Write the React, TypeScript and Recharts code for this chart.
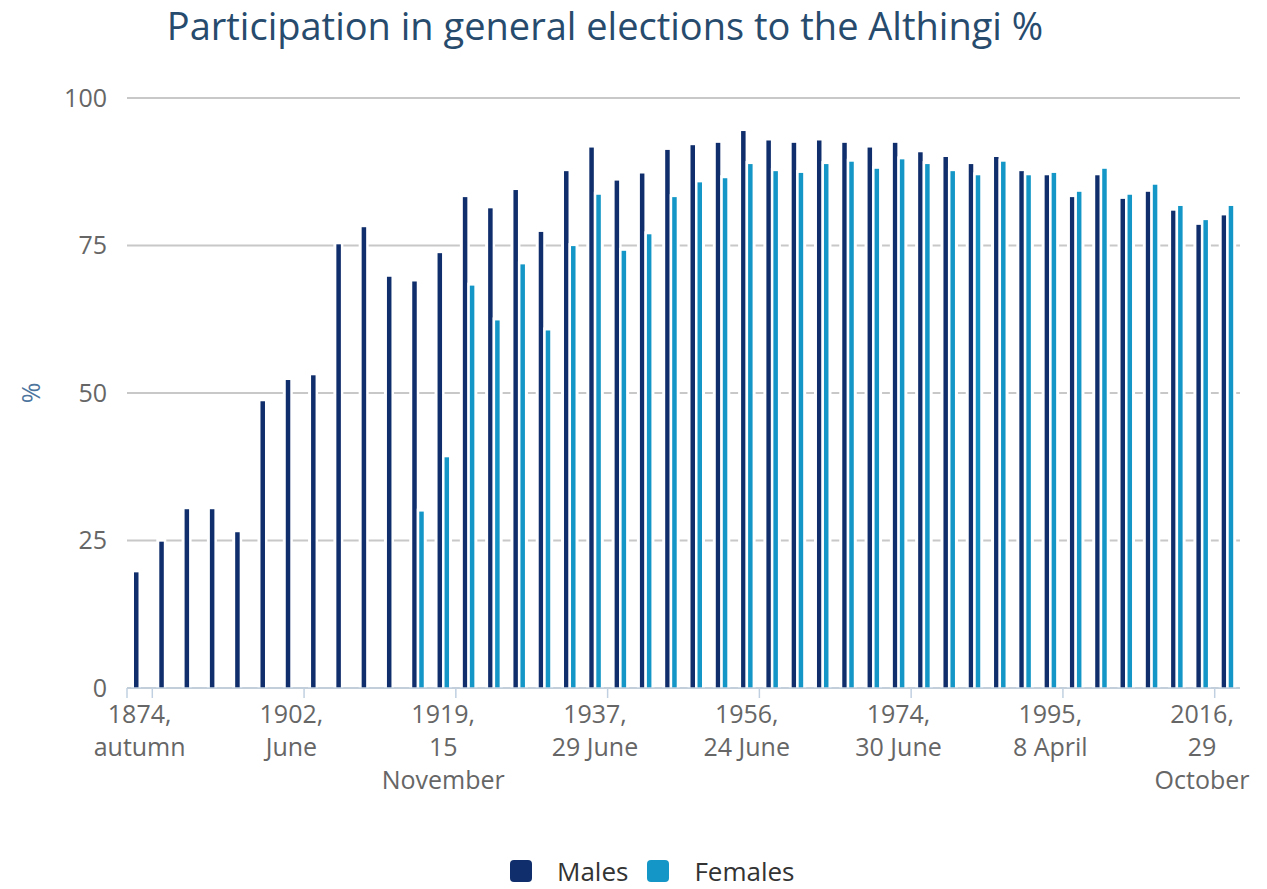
import React from 'react';
import { BarChart, Bar, XAxis, YAxis, CartesianGrid, Label } from 'recharts';

// election dates (only every 6th is shown on the axis)
const categories = [
  '1874, autumn', '1880, September', '1886, September', '1892, September', '1894, June',
  '1900, September', '1902, June', '1903, June', '1908, 10 September', '1911, 28 October',
  '1914, 11 April', '1916, 21 October', '1919, 15 November', '1923, 27 October', '1927, 9 July',
  '1931, 12 June', '1933, 16 July', '1934, 24 June', '1937, 29 June', '1942, 5 July',
  '1942, 18 October', '1946, 30 June', '1949, 23 October', '1953, 28 June', '1956, 24 June',
  '1959, 28 June', '1959, 25 October', '1963, 9 June', '1967, 11 June', '1971, 13 June',
  '1974, 30 June', '1978, 25 June', '1979, 2 December', '1983, 23 April', '1987, 25 April',
  '1991, 20 April', '1995, 8 April', '1999, 8 May', '2003, 10 May', '2007, 12 May',
  '2009, 25 April', '2013, 27 April', '2016, 29 October', '2017, 28 October',
];

const males = [
  19.6, 24.8, 30.3, 30.3, 26.4, 48.6, 52.2, 53.0, 75.2, 78.1,
  69.7, 68.9, 73.7, 83.2, 81.3, 84.4, 77.3, 87.6, 91.6, 86.0,
  87.2, 91.2, 92.0, 92.4, 94.4, 92.8, 92.4, 92.8, 92.4, 91.6,
  92.4, 90.8, 90.0, 88.8, 90.0, 87.6, 86.9, 83.2, 86.9, 82.9,
  84.1, 80.9, 78.5, 80.1,
];

const females = [
  null, null, null, null, null, null, null, null, null, null,
  null, 29.9, 39.1, 68.2, 62.3, 71.8, 60.6, 74.9, 83.6, 74.1,
  76.9, 83.2, 85.7, 86.4, 88.8, 87.6, 87.3, 88.8, 89.2, 88.0,
  89.6, 88.8, 87.6, 86.9, 89.2, 86.9, 87.3, 84.1, 88.0, 83.6,
  85.3, 81.7, 79.3, 81.7,
];

const yTicks = [0, 25, 50, 75, 100];

const data = categories.map((name, i) => ({ name, males: males[i], females: females[i] }));

const MALE = '#0f2e6b';
const FEMALE = '#1497c6';
const FONT = '"Open Sans", sans-serif';
const BAR_SIZE = 4.5;
const BAR_GAP = 2.5;
const HALO = 3;

// white halo behind each bar, so the gridlines break around the bars
const makeShape = (side: 'left' | 'right') => (props: any) => {
  const { x, y, width, height, fill } = props;
  if (!height || height <= 0) return null;
  const hx = side === 'left' ? x - HALO : x - BAR_GAP;
  const hw = side === 'left' ? width + HALO + BAR_GAP : width + BAR_GAP + HALO;
  return (
    <g>
      <rect x={hx} y={y - HALO} width={hw} height={height + HALO} fill="#fff" />
      <rect x={x} y={y} width={width} height={height} fill={fill} />
    </g>
  );
};

const wrapLabel = (value: string) => {
  const [year, rest] = value.split(', ');
  const lines = [year + ','];
  if (rest.length > 8) lines.push(...rest.split(' '));
  else lines.push(rest);
  return lines;
};

const XTick = (props: any) => {
  const { x, y, payload, index } = props;
  const half = payload.offset || 0;
  const lines = wrapLabel(payload.value);
  return (
    <g>
      <line x1={x + half} x2={x + half} y1={y} y2={y + 10} stroke="#c0d0e0" strokeWidth={1.5} />
      {index === 0 && (
        <line x1={x - half} x2={x - half} y1={y} y2={y + 10} stroke="#c0d0e0" strokeWidth={1.5} />
      )}
      <text x={x} y={y} textAnchor="middle" fill="#666" fontSize={25} fontFamily={FONT}>
        {lines.map((l, i) => (
          <tspan key={i} x={x} y={y + 35 + i * 33}>{l}</tspan>
        ))}
      </text>
    </g>
  );
};

const LegendItem: React.FC<{ color: string; label: string }> = ({ color, label }) => (
  <div style={{ display: 'flex', alignItems: 'center', marginRight: 19, height: 22 }}>
    <div style={{ width: 22, height: 22, borderRadius: 4, background: color, marginRight: 25 }} />
    <span style={{ fontSize: 26, lineHeight: '22px', color: '#333', fontFamily: FONT }}>{label}</span>
  </div>
);

export default function App() {
  return (
    <div style={{ position: 'absolute', left: 0, top: 0, width: 1267, height: 889, background: '#fff', overflow: 'hidden' }}>
      <svg width={1267} height={60} style={{ position: 'absolute', left: 0, top: 0 }}>
        <text x={605} y={40} textAnchor="middle" fill="#274b6d" fontSize={38} fontFamily={FONT}>
          Participation in general elections to the Althingi %
        </text>
      </svg>
      <BarChart
        width={1267}
        height={889}
        data={data}
        margin={{ top: 98, right: 27, bottom: 171, left: 67 }}
        barSize={BAR_SIZE}
        barGap={BAR_GAP}
        style={{ position: 'absolute', left: 0, top: 0 }}
      >
        <CartesianGrid vertical={false} stroke="#c8c8c8" strokeWidth={2} />
        <XAxis
          dataKey="name"
          interval={5}
          tickLine={false}
          tickSize={0}
          tickMargin={0}
          axisLine={{ stroke: '#c0d0e0', strokeWidth: 1.5 }}
          tick={<XTick />}
        />
        <YAxis
          domain={[0, 100]}
          ticks={yTicks}
          width={60}
          axisLine={false}
          tickLine={false}
          tickSize={0}
          tickMargin={20}
          tick={{ fill: '#666', fontSize: 25, fontFamily: FONT }}
        >
          <Label
            content={({ viewBox }: any) => {
              const cx = viewBox.x - 37;
              const cy = viewBox.y + viewBox.height / 2;
              return (
                <text
                  x={cx}
                  y={cy}
                  transform={`rotate(-90, ${cx}, ${cy})`}
                  textAnchor="middle"
                  dominantBaseline="central"
                  fill="#4d759e"
                  fontSize={25}
                  fontFamily={FONT}
                >
                  %
                </text>
              );
            }}
          />
        </YAxis>
        <Bar dataKey="males" name="Males" fill={MALE} shape={makeShape('left')} isAnimationActive={false} />
        <Bar dataKey="females" name="Females" fill={FEMALE} shape={makeShape('right')} isAnimationActive={false} />
      </BarChart>
      <div style={{ position: 'absolute', left: 510, top: 860, display: 'flex' }}>
        <LegendItem color={MALE} label="Males" />
        <LegendItem color={FEMALE} label="Females" />
      </div>
    </div>
  );
}
